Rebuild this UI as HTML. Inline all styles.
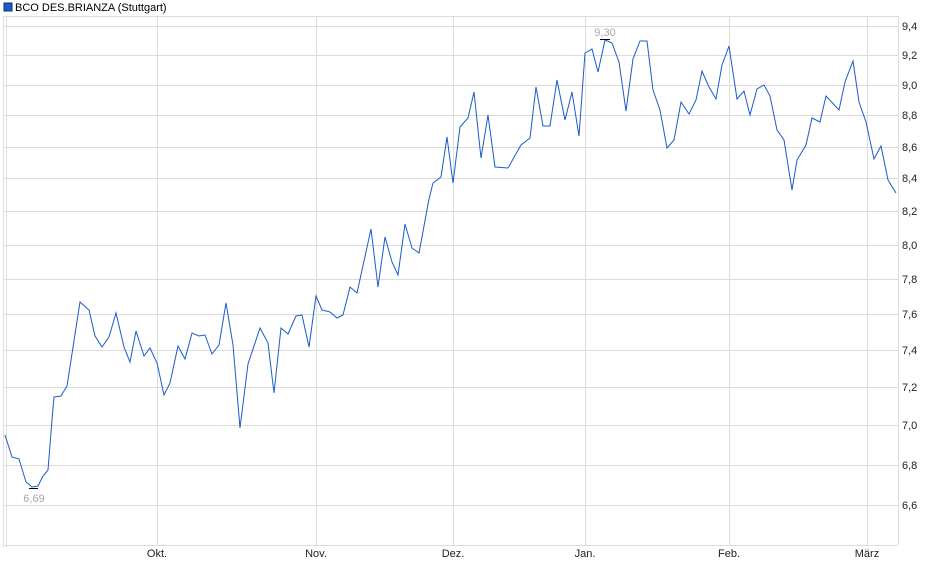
<!DOCTYPE html>
<html><head><meta charset="utf-8"><style>
body{margin:0;background:#fff;}
svg{display:block;font-family:"Liberation Sans",Arial,sans-serif;}
</style></head><body>
<svg width="940" height="579" viewBox="0 0 940 579" xmlns="http://www.w3.org/2000/svg">
<rect x="4" y="3" width="8" height="8" fill="#1f5bc4" stroke="#0b2f7a" stroke-width="1"/>
<text x="15" y="11" font-size="11" fill="#000">BCO DES.BRIANZA (Stuttgart)</text>
<g stroke="#dcdcdc" stroke-width="1" shape-rendering="crispEdges">
<line x1="3" y1="16.5" x2="898" y2="16.5"/>
<line x1="3.5" y1="16" x2="3.5" y2="547"/>
<line x1="6.5" y1="16" x2="6.5" y2="547"/>
<line x1="898.5" y1="16" x2="898.5" y2="545"/>
<line x1="3" y1="545.5" x2="898" y2="545.5"/>
<line x1="157.5" y1="16" x2="157.5" y2="545"/>
<line x1="316.5" y1="16" x2="316.5" y2="545"/>
<line x1="453.5" y1="16" x2="453.5" y2="545"/>
<line x1="585.5" y1="16" x2="585.5" y2="545"/>
<line x1="729.5" y1="16" x2="729.5" y2="545"/>
<line x1="867.5" y1="16" x2="867.5" y2="545"/>
<line x1="3" y1="26.5" x2="898" y2="26.5"/>
<line x1="3" y1="55.5" x2="898" y2="55.5"/>
<line x1="3" y1="85.5" x2="898" y2="85.5"/>
<line x1="3" y1="115.5" x2="898" y2="115.5"/>
<line x1="3" y1="147.5" x2="898" y2="147.5"/>
<line x1="3" y1="178.5" x2="898" y2="178.5"/>
<line x1="3" y1="211.5" x2="898" y2="211.5"/>
<line x1="3" y1="245.5" x2="898" y2="245.5"/>
<line x1="3" y1="279.5" x2="898" y2="279.5"/>
<line x1="3" y1="314.5" x2="898" y2="314.5"/>
<line x1="3" y1="350.5" x2="898" y2="350.5"/>
<line x1="3" y1="387.5" x2="898" y2="387.5"/>
<line x1="3" y1="425.5" x2="898" y2="425.5"/>
<line x1="3" y1="465.5" x2="898" y2="465.5"/>
<line x1="3" y1="505.5" x2="898" y2="505.5"/>
</g>
<g font-size="11" fill="#222">
<text x="902" y="30">9,4</text><text x="902" y="59">9,2</text><text x="902" y="89">9,0</text>
<text x="902" y="119">8,8</text><text x="902" y="151">8,6</text><text x="902" y="182">8,4</text>
<text x="902" y="215">8,2</text><text x="902" y="249">8,0</text><text x="902" y="283">7,8</text>
<text x="902" y="318">7,6</text><text x="902" y="354">7,4</text><text x="902" y="391">7,2</text>
<text x="902" y="429">7,0</text><text x="902" y="469">6,8</text><text x="902" y="509">6,6</text>
</g>
<g font-size="11" fill="#222" text-anchor="middle">
<text x="157" y="557">Okt.</text><text x="316" y="557">Nov.</text><text x="453" y="557">Dez.</text>
<text x="585" y="557">Jan.</text><text x="729" y="557">Feb.</text><text x="867" y="557">März</text>
</g>
<polyline fill="none" stroke="#1a5cc8" stroke-width="1" points="5,435 12,457 19,459 26,482 32,487 38,486 43,476 48,470 50,445 52,420 54,397 61,396 67,386 80,302 89,310 95,336 102,347 109,337 116,313 124,347 130,362 136,331 144,356 150,348 157,363 164,395 170,383 178,346 185,359 192,333 199,336 205,335 212,354 219,345 226,303 233,345 240,428 248,364 260,328 268,343 274,393 281,328 288,334 296,316 302,315 309,347 316,296 322,310 330,312 337,318 343,315 350,287 357,293 371,229 378,287 385,237 392,262 398,275 405,224 412,248 419,253 429,199 433,183 441,177 447,137 453,183 460,127 468,118 474,92 481,158 488,115 495,167 508,168 521,145 530,138 536,87 543,126 550,126 557,80 565,120 572,92 579,136 585,53 592,49 598,72 605,40 612,43 619,62 626,111 633,59 640,41 647,41 653,90 660,110 667,148 674,140 681,102 689,114 696,100 702,71 709,87 716,99 722,65 729,46 737,99 744,91 750,115 757,89 764,85 770,96 777,130 784,140 792,190 797,160 806,145 812,118 820,122 826,96 839,110 845,82 853,61 859,102 866,122 874,159 881,146 888,180 896,193"/>
<line x1="29" y1="488.5" x2="38" y2="488.5" stroke="#000" stroke-width="1"/>
<text x="34" y="502" font-size="11" fill="#a8a8a8" text-anchor="middle">6,69</text>
<line x1="600" y1="39.5" x2="610" y2="39.5" stroke="#000" stroke-width="1"/>
<text x="605" y="36" font-size="11" fill="#a8a8a8" text-anchor="middle">9,30</text>
</svg>
</body></html>
